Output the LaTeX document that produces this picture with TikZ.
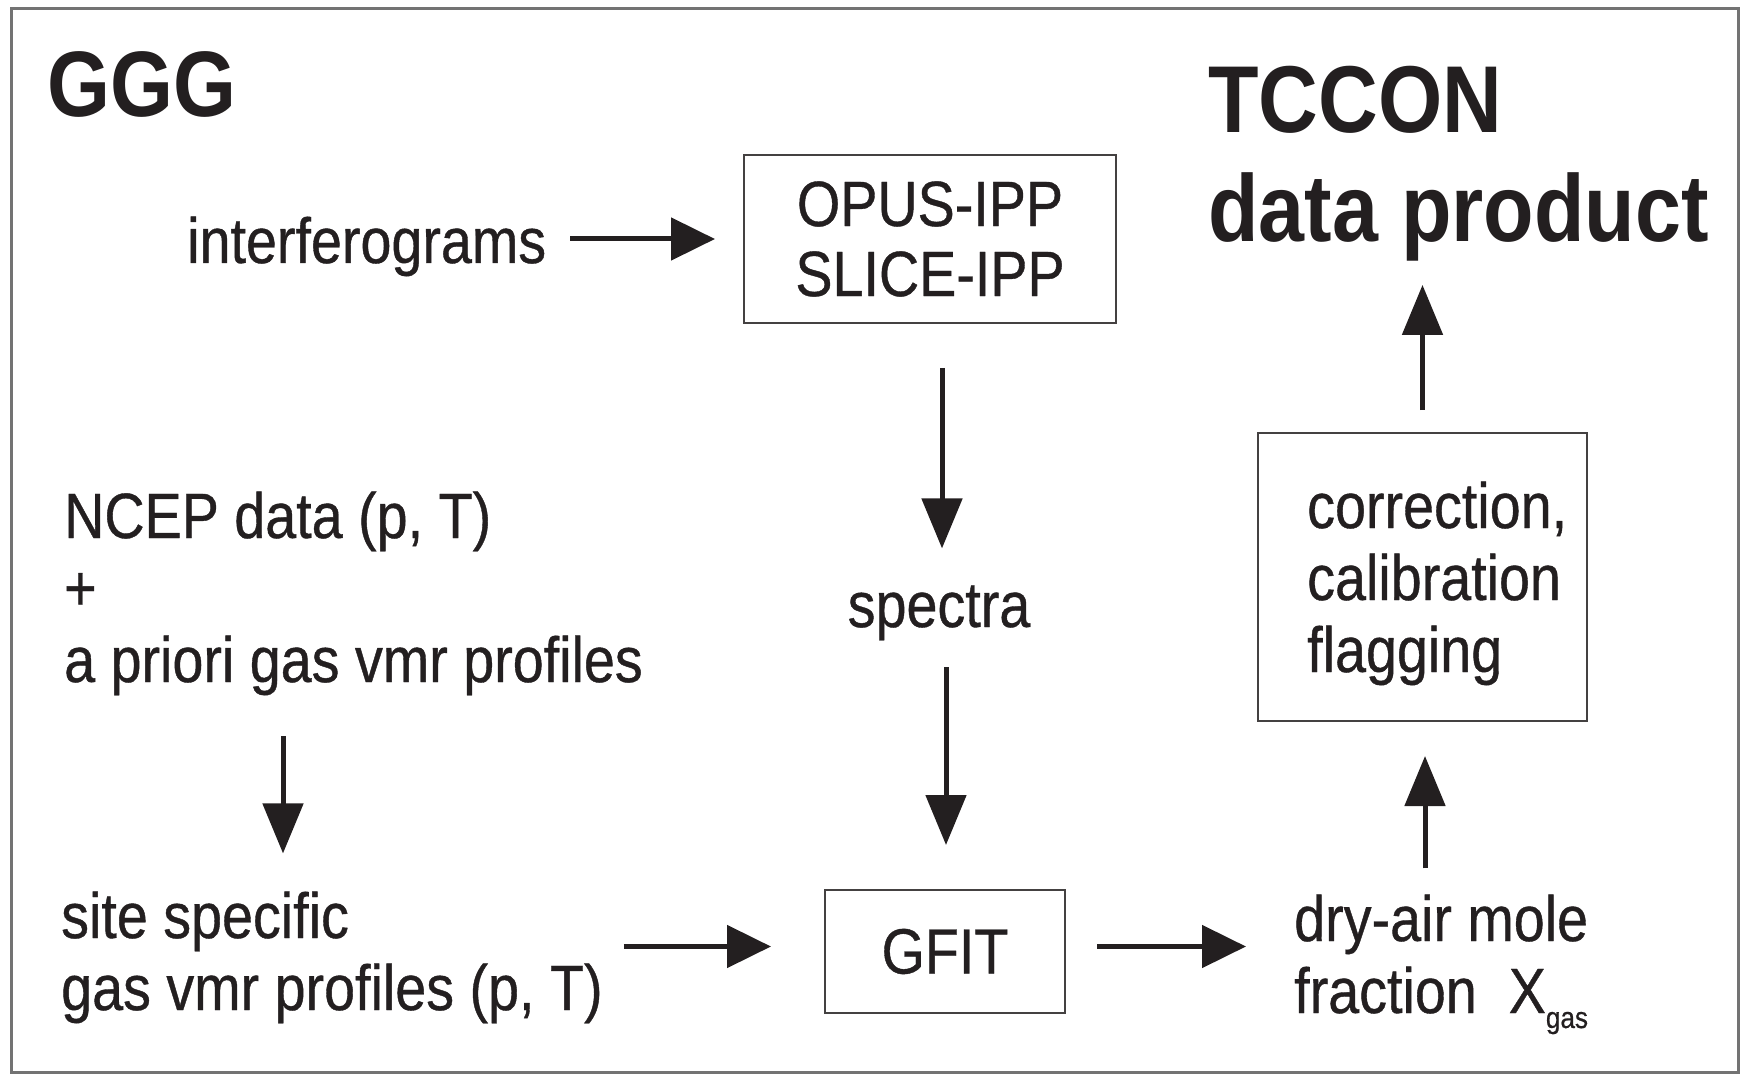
\documentclass[tikz,border=0pt]{standalone}
\usepackage{fontspec}
\setmainfont{Liberation Sans}[FakeStretch=0.87, UprightFeatures={FakeBold=0.6}]
\usetikzlibrary{arrows.meta}
\definecolor{ink}{HTML}{231F20}
\begin{document}
\begin{tikzpicture}[x=1pt,y=-1pt,
  txt/.style={inner sep=0pt, anchor=base west, align=left, text=ink, font=\fontsize{64}{72}\selectfont},
  ttl/.style={inner sep=0pt, anchor=base west, align=left, text=ink, font=\fontsize{95}{109}\selectfont\bfseries},
  boxnode/.style={draw=ink!85, line width=2pt, inner sep=0pt, text=ink, font=\fontsize{64}{70}\selectfont},
  harr/.style={draw=ink, line width=5pt, -{Triangle[length=44pt,width=42pt]}},
  varr/.style={draw=ink, line width=5pt, -{Triangle[length=50pt,width=40pt]}}
]
\useasboundingbox (0,0) rectangle (1741,1075);
\draw[draw=black!55, line width=3pt] (11,9) rectangle (1738,1072);

\node[ttl, font=\fontsize{93}{100}\selectfont\bfseries] (ggg) at (47,117) {GGG};
\node[ttl] (tccon) at (1208,242) {TCCON\\data product};

\node[txt] (interf) at (187,263) {interferograms};
\node[boxnode, minimum width=372pt, minimum height=168pt, align=center] (opus) at (930,239) {OPUS-IPP\\SLICE-IPP};
\node[txt, anchor=base, align=center] (spectra) at (939,627) {spectra};
\node[boxnode, minimum width=240pt, minimum height=123pt] (gfit) at (945,951.5) {GFIT};

\node[txt] (ncep) at (64,682) {NCEP data (p, T)\\+\\a priori gas vmr profiles};
\node[txt] (site) at (61,1010) {site specific\\gas vmr profiles (p, T)};

\node[txt] (dryair) at (1294,1013) {dry-air mole\\fraction\hspace{0.5em}X\raisebox{-15pt}{\fontsize{30}{30}\selectfont gas}};

\node[boxnode, minimum width=329pt, minimum height=288pt] (corr) at (1422.5,577) {};
\node[txt] (corrtext) at (1307,672) {correction,\\calibration\\flagging};

% connectors
\draw[harr, shorten <=24pt, shorten >=28pt] (interf.east |- opus.west) -- (opus.west);
\draw[varr, shorten <=44pt, shorten >=37pt] ([xshift=12pt]opus.south) -- ([xshift=12pt]opus.south |- spectra.north);
\draw[varr, shorten <=27pt, shorten >=44pt] ([xshift=7pt]spectra.south) -- ([xshift=7pt]spectra.south |- gfit.north);
\draw[varr, shorten <=41pt, shorten >=38pt] ([xshift=219pt]ncep.south west) -- ([xshift=219pt]ncep.south west |- site.north);
\draw[harr, shorten <=21pt, shorten >=53pt] ([yshift=5pt]site.east |- gfit.west) -- ([yshift=5pt]gfit.west);
\draw[harr, shorten <=31pt, shorten >=48pt] ([yshift=5pt]gfit.east) -- ([yshift=5pt]gfit.east -| dryair.west);
\draw[varr, shorten <=26pt, shorten >=34pt] ([xshift=2.5pt]corr.south |- dryair.north) -- ([xshift=2.5pt]corr.south);
\draw[varr, shorten <=22pt, shorten >=23pt] (corr.north) -- (corr.north |- tccon.south);
\end{tikzpicture}
\end{document}
